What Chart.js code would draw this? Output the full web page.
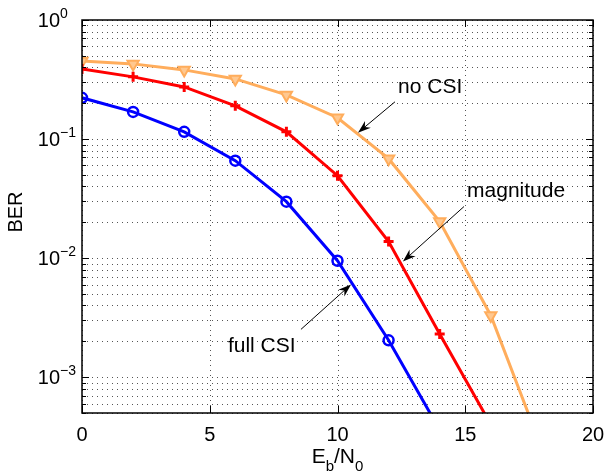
<!DOCTYPE html>
<html>
<head>
<meta charset="utf-8">
<script src="https://cdn.jsdelivr.net/npm/chart.js@4.4.1/dist/chart.umd.min.js"></script>
<style>
  html, body { margin: 0; padding: 0; background: #fff; }
  #wrap { width: 606px; height: 474px; }
</style>
</head>
<body>
<div id="wrap"><canvas id="ber-chart"></canvas></div>
<script>
// Eb/N0 in dB, BER curves
const ebn0 = [0, 2, 4, 6, 8, 10, 12, 14, 16, 18];
const fullCsi = [0.222, 0.169, 0.115, 0.0658, 0.0298, 0.0095, 0.00204, 0.00036];
const magnitude = [0.388, 0.333, 0.274, 0.19, 0.115, 0.0492, 0.0138, 0.0023, 0.0004];
const noCsi = [0.453, 0.428, 0.381, 0.32, 0.235, 0.151, 0.0684, 0.0203, 0.0033, 0.00025];

const xTicks = [0, 5, 10, 15, 20];
const yDecades = [-3, -2, -1, 0];

// annotation labels with arrows, in data units
const noteText = ['no CSI', 'magnitude', 'full CSI'];
const noteAt = [[12.37, 0.244], [15.07, 0.0328], [5.71, 0.00162]];
const arrowFrom = [[12.25, 0.2056], [14.95, 0.0271], [8.57, 0.00252]];
const arrowTo = [[10.8, 0.113], [12.56, 0.00937], [10.53, 0.00601]];

const FONT = '"Liberation Sans", Arial, Helvetica, sans-serif';

function points(vals) {
  return vals.map((v, i) => ({ x: ebn0[i], y: v }));
}

const matlabAxes = {
  id: 'matlabAxes',
  beforeDatasetsDraw(chart) {
    const { ctx, chartArea: a, scales: { x, y } } = chart;
    ctx.save();
    ctx.strokeStyle = '#555';
    ctx.lineWidth = 1;
    ctx.setLineDash([1, 4]);
    for (let d = -4; d <= 0; d++) {
      for (let m = 1; m <= 9; m++) {
        const v = m * Math.pow(10, d);
        if (v < y.min * 0.999 || v > y.max * 1.001) continue;
        const py = Math.round(y.getPixelForValue(v)) + 0.5;
        ctx.beginPath();
        ctx.moveTo(a.left, py);
        ctx.lineTo(a.right, py);
        ctx.stroke();
      }
    }
    xTicks.forEach(t => {
      const px = Math.round(x.getPixelForValue(t)) + 0.5;
      ctx.beginPath();
      ctx.moveTo(px, a.top);
      ctx.lineTo(px, a.bottom);
      ctx.stroke();
    });
    ctx.restore();
  },
  afterDatasetsDraw(chart) {
    const { ctx, chartArea: a, scales: { x, y } } = chart;
    ctx.save();
    ctx.strokeStyle = '#000';
    ctx.lineWidth = 1;
    ctx.setLineDash([]);

    // tick marks, inside on all four sides
    ctx.beginPath();
    for (let d = -4; d <= 0; d++) {
      for (let m = 1; m <= 9; m++) {
        const v = m * Math.pow(10, d);
        if (v < y.min * 0.999 || v > y.max * 1.001) continue;
        const py = Math.round(y.getPixelForValue(v)) + 0.5;
        const len = m === 1 ? 7 : 4;
        ctx.moveTo(a.left, py); ctx.lineTo(a.left + len, py);
        ctx.moveTo(a.right, py); ctx.lineTo(a.right - len, py);
      }
    }
    xTicks.forEach(t => {
      const px = Math.round(x.getPixelForValue(t)) + 0.5;
      ctx.moveTo(px, a.bottom); ctx.lineTo(px, a.bottom - 7);
      ctx.moveTo(px, a.top); ctx.lineTo(px, a.top + 7);
    });
    ctx.stroke();

    // box
    ctx.lineWidth = 1.5;
    ctx.strokeRect(a.left, a.top, a.right - a.left, a.bottom - a.top);

    // y tick labels as 10^d
    ctx.fillStyle = '#000';
    ctx.textBaseline = 'alphabetic';
    yDecades.forEach(d => {
      const py = y.getPixelForValue(Math.pow(10, d));
      ctx.font = '20px ' + FONT;
      ctx.textAlign = 'right';
      ctx.fillText('10', 60, py + 7);
      ctx.font = '14px ' + FONT;
      ctx.textAlign = 'left';
      ctx.fillText(d === 0 ? '0' : '\u2212' + (-d), 60, py - 2);
    });

    // axis titles
    ctx.save();
    ctx.font = '20px ' + FONT;
    ctx.textAlign = 'center';
    ctx.textBaseline = 'middle';
    ctx.translate(16, 212);
    ctx.rotate(-Math.PI / 2);
    ctx.fillText('BER', 0, 0);
    ctx.restore();

    const parts = [['E', 21, 0], ['b', 15, 8], ['/N', 21, 0], ['0', 15, 8]];
    let total = 0;
    parts.forEach(p => { ctx.font = p[1] + 'px ' + FONT; total += ctx.measureText(p[0]).width; });
    let cx = (a.left + a.right) / 2 - total / 2;
    ctx.textAlign = 'left';
    parts.forEach(p => {
      ctx.font = p[1] + 'px ' + FONT;
      ctx.fillText(p[0], cx, 463 + p[2]);
      cx += ctx.measureText(p[0]).width;
    });

    // annotations
    ctx.font = '21px ' + FONT;
    noteText.forEach((txt, i) => {
      ctx.fillText(txt, x.getPixelForValue(noteAt[i][0]), y.getPixelForValue(noteAt[i][1]));
      const x0 = x.getPixelForValue(arrowFrom[i][0]), y0 = y.getPixelForValue(arrowFrom[i][1]);
      const x1 = x.getPixelForValue(arrowTo[i][0]), y1 = y.getPixelForValue(arrowTo[i][1]);
      const ang = Math.atan2(y1 - y0, x1 - x0);
      ctx.lineWidth = 1;
      ctx.beginPath();
      ctx.moveTo(x0, y0);
      ctx.lineTo(x1 - 8 * Math.cos(ang), y1 - 8 * Math.sin(ang));
      ctx.stroke();
      ctx.beginPath();
      ctx.moveTo(x1, y1);
      ctx.lineTo(x1 - 13 * Math.cos(ang) + 4.5 * Math.sin(ang), y1 - 13 * Math.sin(ang) - 4.5 * Math.cos(ang));
      ctx.lineTo(x1 - 9 * Math.cos(ang), y1 - 9 * Math.sin(ang));
      ctx.lineTo(x1 - 13 * Math.cos(ang) - 4.5 * Math.sin(ang), y1 - 13 * Math.sin(ang) + 4.5 * Math.cos(ang));
      ctx.closePath();
      ctx.fill();
    });
    ctx.restore();
  }
};

new Chart(document.getElementById('ber-chart'), {
  type: 'line',
  data: {
    datasets: [
      {
        label: 'full CSI',
        data: points(fullCsi),
        borderColor: '#0000ff',
        borderWidth: 3,
        pointStyle: 'circle',
        pointRadius: 5,
        pointBorderWidth: 2.5,
        pointBorderColor: '#0000ff',
        pointBackgroundColor: 'rgba(0,0,0,0)'
      },
      {
        label: 'magnitude',
        data: points(magnitude),
        borderColor: '#ff0000',
        borderWidth: 3,
        pointStyle: 'cross',
        pointRadius: 5,
        pointBorderWidth: 3,
        pointBorderColor: '#ff0000'
      },
      {
        label: 'no CSI',
        data: points(noCsi),
        borderColor: '#ffad5c',
        borderWidth: 3,
        pointStyle: 'triangle',
        rotation: 180,
        pointRadius: 6.5,
        pointBorderWidth: 2,
        pointBorderColor: '#ffad5c',
        pointBackgroundColor: '#ffc890'
      }
    ]
  },
  options: {
    responsive: true,
    maintainAspectRatio: false,
    animation: false,
    layout: { padding: { top: 20, right: 13, left: 0, bottom: 0 } },
    elements: { line: { tension: 0, fill: false } },
    plugins: { legend: { display: false }, tooltip: { enabled: false } },
    scales: {
      x: {
        type: 'linear',
        min: 0,
        max: 20,
        ticks: { stepSize: 5, color: '#000', padding: 10, maxRotation: 0, font: { size: 20, family: FONT } },
        grid: { display: false, drawTicks: false },
        border: { display: false },
        afterFit: s => { s.height = 61; s.paddingLeft = 0; s.paddingRight = 0; }
      },
      y: {
        type: 'logarithmic',
        min: 5e-4,
        max: 1,
        ticks: { display: false },
        grid: { display: false, drawTicks: false },
        border: { display: false },
        afterFit: s => { s.width = 82; }
      }
    }
  },
  plugins: [matlabAxes]
});
</script>
</body>
</html>
